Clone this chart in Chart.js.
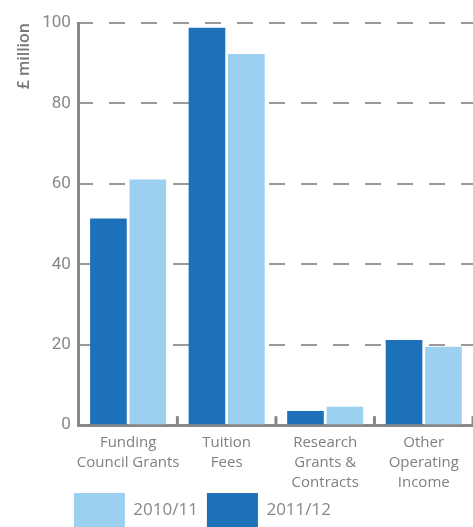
<!DOCTYPE html>
<html lang="en">
<head>
    <meta charset="UTF-8">
    <title>Income by source</title>
    <style>
        body {
            margin: 0;
            padding: 0;
            background: #fff;
        }
        #wrap {
            width: 473px;
            height: 527px;
        }
    </style>
    <script src="https://cdn.jsdelivr.net/npm/chart.js"></script>
</head>
<body>
    <div id="wrap"><canvas id="incomeChart"></canvas></div>

    <script>
        // Data
        const categories = [
            ['Funding', 'Council Grants'],
            ['Tuition', 'Fees'],
            ['Research', 'Grants &', 'Contracts'],
            ['Other', 'Operating', 'Income']
        ];
        const income2011 = [51.4, 98.8, 3.5, 21.2];
        const income2010 = [61.1, 92.3, 4.6, 19.5];
        const yTicks = [0, 20, 40, 60, 80, 100];

        const grey = '#888';

        // small upward ticks on the x axis between categories
        const innerTicks = {
            id: 'innerTicks',
            afterDraw(chart) {
                const x = chart.scales.x;
                const ctx = chart.ctx;
                ctx.save();
                ctx.strokeStyle = grey;
                ctx.lineWidth = 3;
                for (let i = 1; i <= categories.length; i++) {
                    const px = i < categories.length
                        ? (x.getPixelForValue(i - 1) + x.getPixelForValue(i)) / 2
                        : x.right;
                    ctx.beginPath();
                    ctx.moveTo(px, x.top);
                    ctx.lineTo(px, x.top - 9);
                    ctx.stroke();
                }
                ctx.restore();
            }
        };

        // legend sits under the plot, tucked up close to the labels
        const legendShift = {
            id: 'legendShift',
            afterLayout(chart) {
                const lg = chart.legend;
                const dx = chart.chartArea.left - 14 - lg.left;
                const dy = -9;
                lg.left += dx;
                lg.right += dx;
                lg.top += dy;
                lg.bottom += dy;
                lg.legendHitBoxes.forEach(b => { b.left += dx; b.top += dy; });
            }
        };

        new Chart(document.getElementById('incomeChart'), {
            type: 'bar',
            data: {
                labels: categories,
                datasets: [{
                    label: '2011/12',
                    data: income2011,
                    backgroundColor: '#1d71b8'
                }, {
                    label: '2010/11',
                    data: income2010,
                    backgroundColor: '#9bd0f1'
                }]
            },
            options: {
                responsive: true,
                maintainAspectRatio: false,
                animation: false,
                categoryPercentage: 0.8,
                barPercentage: 0.93,
                layout: { padding: { top: 23, right: -5, left: 15, bottom: -19 } },
                plugins: {
                    tooltip: { enabled: false },
                    legend: {
                        position: 'bottom',
                        align: 'start',
                        reverse: true,
                        labels: {
                            boxWidth: 51,
                            boxHeight: 34,
                            padding: 9,
                            color: grey,
                            font: { family: 'Open Sans', size: 17 }
                        }
                    }
                },
                scales: {
                    x: {
                        grid: { display: false },
                        border: { color: grey, width: 3 },
                        ticks: {
                            color: '#808080',
                            padding: 0,
                            autoSkip: false,
                            maxRotation: 0,
                            font: { family: 'Open Sans', size: 15, lineHeight: 1.33 }
                        }
                    },
                    y: {
                        min: 0,
                        max: 100,
                        afterBuildTicks(scale) {
                            scale.ticks = yTicks.map(v => ({ value: v }));
                        },
                        border: { color: grey, width: 3, dash: [16, 16], dashOffset: 3 },
                        grid: {
                            color: '#9a9a9a',
                            lineWidth: 2,
                            drawTicks: false
                        },
                        ticks: {
                            color: grey,
                            padding: 8,
                            font: { family: 'Roboto', size: 17 }
                        },
                        title: {
                            display: true,
                            text: '£ million',
                            align: 'end',
                            color: '#777',
                            padding: 0,
                            font: { family: 'Open Sans', size: 16, weight: '600' }
                        }
                    }
                }
            },
            plugins: [innerTicks, legendShift]
        });
    </script>
</body>
</html>
